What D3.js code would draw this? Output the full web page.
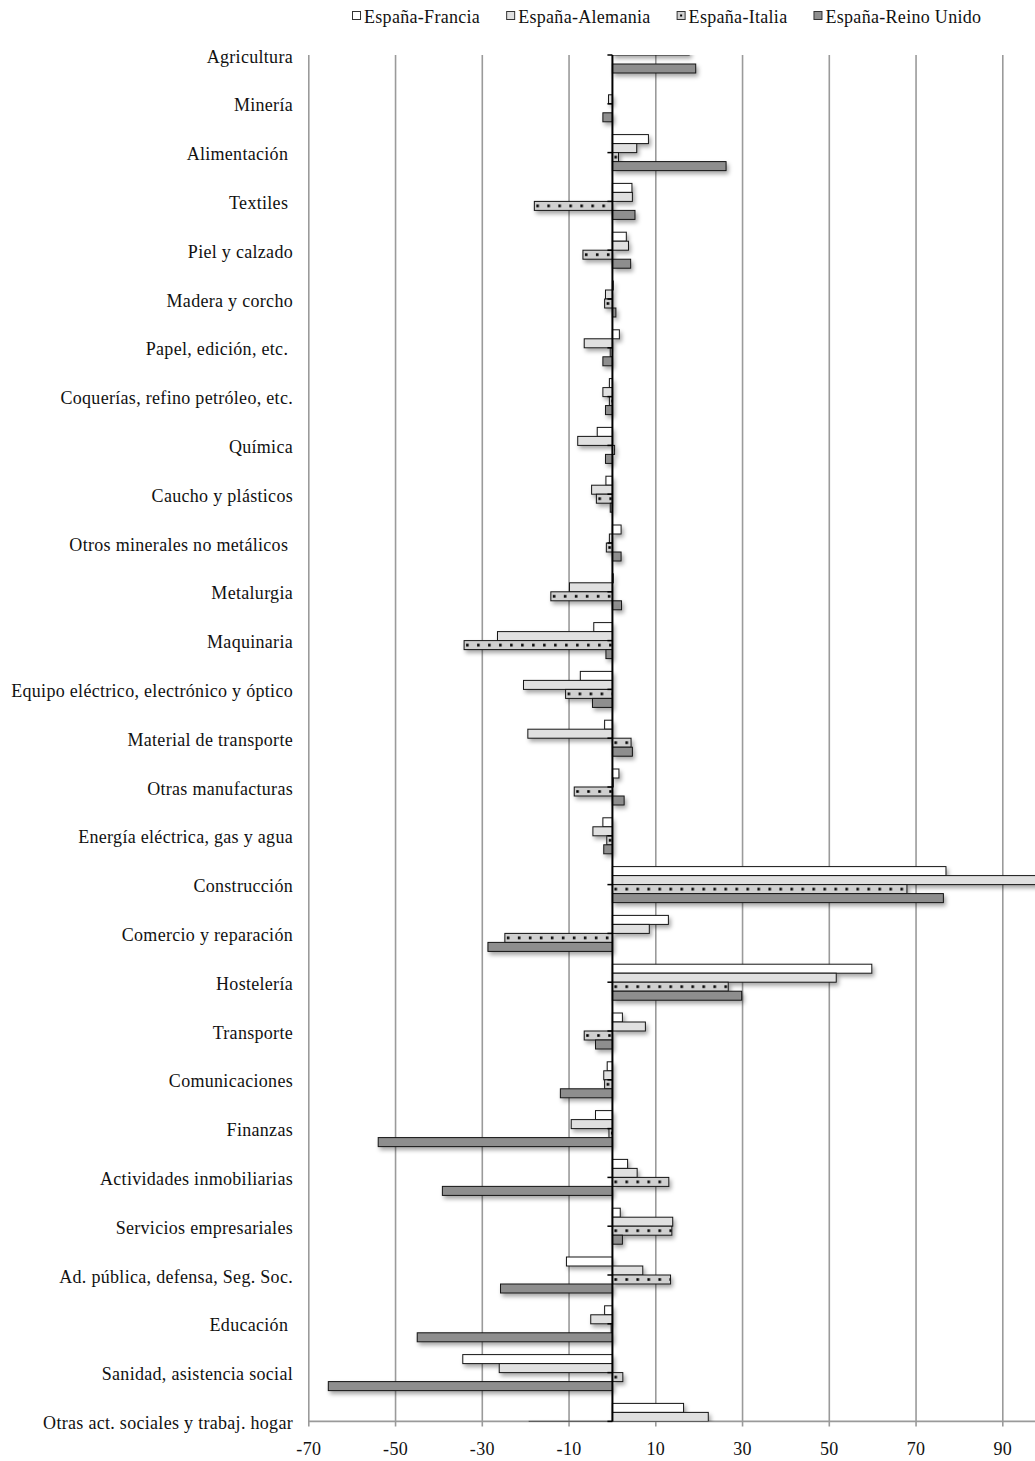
<!DOCTYPE html>
<html>
<head>
<meta charset="utf-8">
<script src="https://cdn.jsdelivr.net/npm/d3@7"></script>
<style>
  body { margin: 0; background: #fff; }
  text { font-family: "Liberation Serif", "Times New Roman", serif; font-size: 18px; letter-spacing: 0.3px; fill: #111; white-space: pre; }
</style>
</head>
<body>
<svg id="chart"></svg>
<script>
// sectors (some labels keep a trailing space, as in the source)
const categories = [
  "Agricultura", "Minería", "Alimentación ", "Textiles ", "Piel y calzado",
  "Madera y corcho", "Papel, edición, etc. ", "Coquerías, refino petróleo, etc.", "Química",
  "Caucho y plásticos", "Otros minerales no metálicos ", "Metalurgia", "Maquinaria",
  "Equipo eléctrico, electrónico y óptico", "Material de transporte", "Otras manufacturas",
  "Energía eléctrica, gas y agua", "Construcción", "Comercio y reparación", "Hostelería",
  "Transporte", "Comunicaciones", "Finanzas", "Actividades inmobiliarias",
  "Servicios empresariales", "Ad. pública, defensa, Seg. Soc.", "Educación ",
  "Sanidad, asistencia social", "Otras act. sociales y trabaj. hogar"
];
const seriesNames = ["España-Francia", "España-Alemania", "España-Italia", "España-Reino Unido"];

const francia = [15, 0, 8.3, 4.5, 3.2, 0.2, 1.6, -0.7, -3.5, -1.5, 2.0, 0.2, -4.3, -7.4, -1.8, 1.5,
  -2.2, 76.9, 12.9, 59.8, 2.3, -1.2, -3.9, 3.5, 1.8, -10.6, -1.8, -34.5, 16.4];
const alemania = [17.7, -0.9, 5.6, 4.6, 3.7, -1.6, -6.5, -2.2, -8.0, -4.8, -0.7, -9.9, -26.5, -20.5, -19.5, 0.2,
  -4.5, 105, 8.5, 51.6, 7.6, -2.0, -9.5, 5.7, 13.9, 7.0, -5.0, -26.1, 22.1];
const italia = [0, 0, 1.4, -18, -6.8, -1.8, -0.5, -0.7, 0.5, -3.7, -1.4, -14.2, -34.2, -10.8, 4.3, -8.8,
  -1.3, 67.9, -24.8, 26.7, -6.5, -1.8, -0.8, 13.0, 13.7, 13.4, -0.3, 2.4, -19.2];
const reinoUnido = [19.2, -2.2, 26.2, 5.2, 4.2, 0.8, -2.2, -1.6, -1.6, -0.5, 2.0, 2.1, -1.5, -4.6, 4.6, 2.7,
  -2.0, 76.3, -28.7, 29.8, -3.9, -12.0, -54, -39.2, 2.3, -25.8, -45, -65.5, -10];

const tickValues = [-70, -50, -30, -10, 10, 30, 50, 70, 90];
const tickLabels = ["-70", "-50", "-30", "-10", "10", "30", "50", "70", "90"];

const W = 1035, H = 1461;
const plotTop = 55, plotBottom = 1421.4, plotLeft = 308.8;
const barH = 9;

const fills = ["#ffffff", "#e0e0e0", "#d0d0d0", "#8e8e8e"];
const values = [francia, alemania, italia, reinoUnido];

const svg = d3.select("#chart").attr("width", W).attr("height", H);
const defs = svg.append("defs");

const shadow = defs.append("filter").attr("id", "shadow")
  .attr("x", "-5%").attr("y", "-50%").attr("width", "110%").attr("height", "200%");
shadow.append("feDropShadow").attr("dx", 2).attr("dy", 3).attr("stdDeviation", 2)
  .attr("flood-color", "#000").attr("flood-opacity", 0.35);

defs.append("clipPath").attr("id", "plotClip").append("rect")
  .attr("x", plotLeft - 2).attr("y", plotTop).attr("width", W - plotLeft + 2).attr("height", plotBottom - plotTop);

const x = d3.scaleLinear().domain([-70, 100]).range([plotLeft, plotLeft + 170 * 4.3375]);
const y = d3.scalePoint().domain(categories).range([plotTop, plotBottom]).padding(0);
const sub = d3.scaleBand().domain(seriesNames).range([-2 * barH, 2 * barH]);

// vertical gridlines
svg.append("g").selectAll("line").data(tickValues).join("line")
  .attr("x1", d => x(d)).attr("x2", d => x(d))
  .attr("y1", plotTop).attr("y2", plotBottom + 5)
  .attr("stroke", "#9a9a9a").attr("stroke-width", 1.6);

// bottom axis line
svg.append("line")
  .attr("x1", x(-70)).attr("x2", W).attr("y1", plotBottom).attr("y2", plotBottom)
  .attr("stroke", "#9a9a9a").attr("stroke-width", 1.6);

// bar data
const bars = [];
categories.forEach((c, i) => {
  seriesNames.forEach((s, k) => {
    bars.push({ cat: c, idx: i, series: s, k: k, v: values[k][i] });
  });
});

// dotted pattern for the Italy series, one per bar so the dots sit mid-bar
bars.filter(d => d.k === 2).forEach(d => {
  const p = defs.append("pattern").attr("id", "dots" + d.idx)
    .attr("patternUnits", "userSpaceOnUse")
    .attr("x", x(Math.min(0, d.v))).attr("y", y(d.cat) + sub(d.series))
    .attr("width", 11).attr("height", barH);
  p.append("rect").attr("width", 11).attr("height", barH).attr("fill", fills[2]);
  p.append("rect").attr("x", 2).attr("y", 3.2).attr("width", 2.6).attr("height", 2.6).attr("fill", "#000");
});

const barLayer = svg.append("g").attr("clip-path", "url(#plotClip)")
  .append("g").attr("filter", "url(#shadow)");

barLayer.selectAll("rect").data(bars).join("rect")
  .attr("x", d => x(Math.min(0, d.v)))
  .attr("width", d => Math.abs(x(d.v) - x(0)))
  .attr("y", d => y(d.cat) + sub(d.series))
  .attr("height", barH)
  .attr("fill", d => d.k === 2 ? "url(#dots" + d.idx + ")" : fills[d.k])
  .attr("stroke", "#151515").attr("stroke-width", 1);

// zero axis with category ticks
svg.append("line")
  .attr("x1", x(0)).attr("x2", x(0)).attr("y1", plotTop).attr("y2", plotBottom)
  .attr("stroke", "#000").attr("stroke-width", 2);
svg.append("g").selectAll("line").data(categories).join("line")
  .attr("x1", x(0) - 5).attr("x2", x(0)).attr("y1", d => y(d)).attr("y2", d => y(d))
  .attr("stroke", "#000").attr("stroke-width", 1.5);

// category labels
svg.append("g").selectAll("text").data(categories).join("text")
  .attr("x", 293).attr("y", d => y(d) + 7.5)
  .attr("text-anchor", "end")
  .text(d => d);

// x tick labels
svg.append("g").selectAll("text").data(tickValues).join("text")
  .attr("x", d => x(d)).attr("y", 1455)
  .attr("text-anchor", "middle")
  .text((d, i) => tickLabels[i]);

// legend
const legend = svg.append("g");
let lx = 352;
seriesNames.forEach((s, k) => {
  const item = legend.append("g");
  item.append("rect").attr("x", lx + 0.5).attr("y", 11.5).attr("width", 8).attr("height", 8)
    .attr("fill", fills[k]).attr("stroke", "#333").attr("stroke-width", 1);
  if (k === 2) {
    item.append("rect").attr("x", lx + 3.5).attr("y", 14.5).attr("width", 2).attr("height", 2).attr("fill", "#000");
  }
  const t = item.append("text").attr("x", lx + 12).attr("y", 22.5).text(s);
  lx += 12 + t.node().getComputedTextLength() + 26;
});
</script>
</body>
</html>
